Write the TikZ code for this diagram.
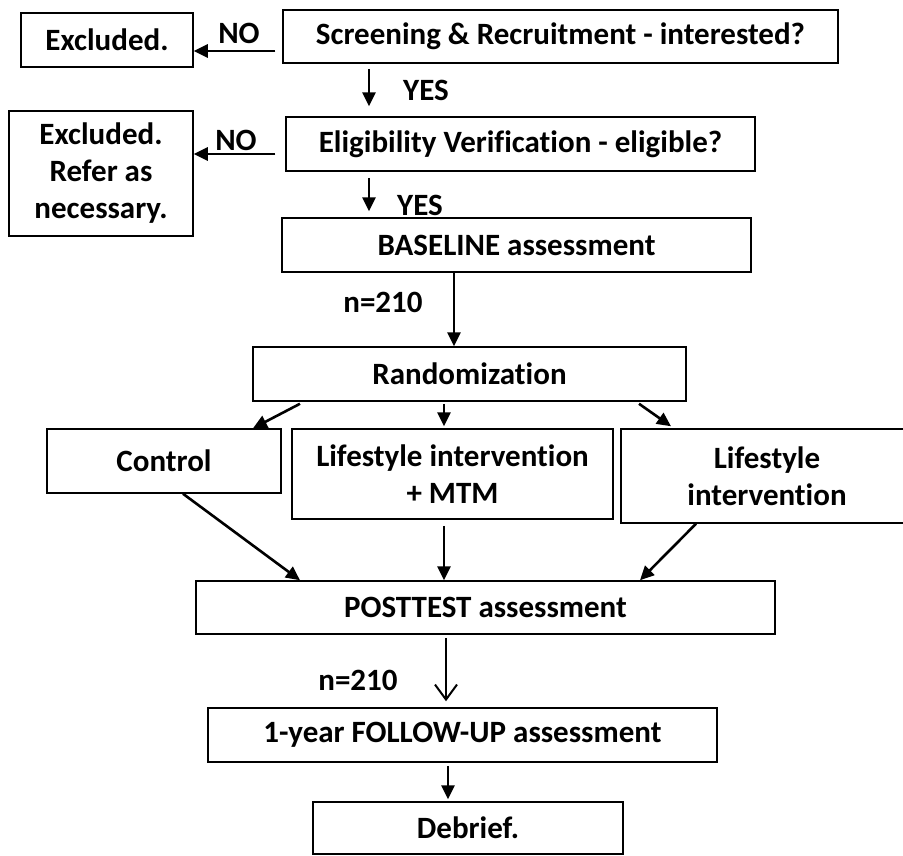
\documentclass[tikz,border=0pt]{standalone}
\usepackage{fontspec}
\setmainfont{Carlito}[Ligatures=NoCommon]
\usetikzlibrary{arrows.meta}

\begin{document}
\begin{tikzpicture}[x=1pt, y=-1pt,
      box/.style={draw, line width=1.5pt, inner sep=0pt, align=center},
      arr/.style={-{Triangle[length=14pt,width=13pt]}, line width=2.6pt},
      oarr/.style={-{Straight Barb[length=15pt,width=22pt]}, line width=2pt},
      lbl/.style={inner sep=0pt},
      font=\fontsize{31}{37}\selectfont\bfseries
    ]
    \useasboundingbox (0,0) rectangle (903,855);
    % Boxes
    \node[box, minimum width=172pt, minimum height=54pt] (excl1)  at (107,40)    {Excluded.};
    \node[box, minimum width=555pt, minimum height=53pt] (screen) at (560.5,36.5) {Screening \& Recruitment - interested?};
    \node[box, minimum width=469pt, minimum height=54pt] (elig)   at (520.5,144) {Eligibility Verification - eligible?};
    \node[box, minimum width=184pt, minimum height=125pt] (excl2) at (101,173.5) {Excluded.\\Refer as\\necessary.};
    \node[box, minimum width=469pt, minimum height=54pt] (base)   at (516.5,245) {BASELINE assessment};
    \node[box, minimum width=433pt, minimum height=54pt] (rand)   at (469.5,374) {Randomization};
    \node[box, minimum width=234pt, minimum height=64pt] (ctrl)   at (164,461)   {Control};
    \node[box, minimum width=321pt, minimum height=90pt] (mtm)    at (452.5,474) {Lifestyle intervention\\+ MTM};
    \node[box, minimum width=292pt, minimum height=94pt] (life)   at (767,476)   {Lifestyle\\intervention};
    \node[box, minimum width=579pt, minimum height=53pt] (post)   at (485.5,607.5) {POSTTEST assessment};
    \node[box, minimum width=509pt, minimum height=54pt] (follow) at (462.5,735) {1-year FOLLOW-UP assessment};
    \node[box, minimum width=310pt, minimum height=52pt] (debrief) at (468,828) {Debrief.};
    % Labels
    \node[lbl] (no1)  at (239,33)  {NO};
    \node[lbl] (yes1) at (426,90)  {YES};
    \node[lbl] (no2)  at (236,140) {NO};
    \node[lbl] (yes2) at (420,205) {YES};
    \node[lbl] (n1)   at (383,302) {n=210};
    \node[lbl] (n2)   at (358,680) {n=210};
    % Arrows
    \draw[arr] ([xshift=-7pt,yshift=-14.5pt]screen.west) -- ([yshift=-11pt]excl1.east);
    \draw[arr] ([xshift=-191.5pt,yshift=-5pt]screen.south) -- ([xshift=-151.5pt,yshift=10pt]elig.north);
    \draw[arr] ([xshift=-10pt,yshift=-10pt]elig.west) -- ([yshift=19.5pt]excl2.east);
    \draw[arr] ([xshift=-151.5pt,yshift=-6pt]elig.south) -- ([xshift=-147.5pt,yshift=6pt]base.north);
    \draw[arr] ([xshift=-62.5pt]base.south) -- ([xshift=-15.5pt]rand.north);
    \draw[arr] ([xshift=-169.5pt,yshift=-2pt]rand.south) -- ([xshift=89pt]ctrl.north);
    \draw[arr] ([xshift=-25.5pt,yshift=-2pt]rand.south) -- ([xshift=-8.5pt,yshift=2pt]mtm.north);
    \draw[arr] ([xshift=169.5pt,yshift=-2pt]rand.south) -- ([xshift=-96pt,yshift=2pt]life.north);
    \draw[arr] ([xshift=19pt]ctrl.south) -- ([xshift=-185.5pt]post.north);
    \draw[arr] ([xshift=-8.5pt,yshift=-6pt]mtm.south) -- ([xshift=-41.5pt]post.north);
    \draw[arr] ([xshift=-71pt]life.south) -- ([xshift=154.5pt]post.north);
    \draw[oarr] ([xshift=-39.5pt,yshift=-3pt]post.south) -- ([xshift=-16.5pt,yshift=6pt]follow.north);
    \draw[arr] ([xshift=-14.5pt,yshift=-3pt]follow.south) -- ([xshift=-20pt,yshift=2pt]debrief.north);
  \end{tikzpicture}
\end{document}
